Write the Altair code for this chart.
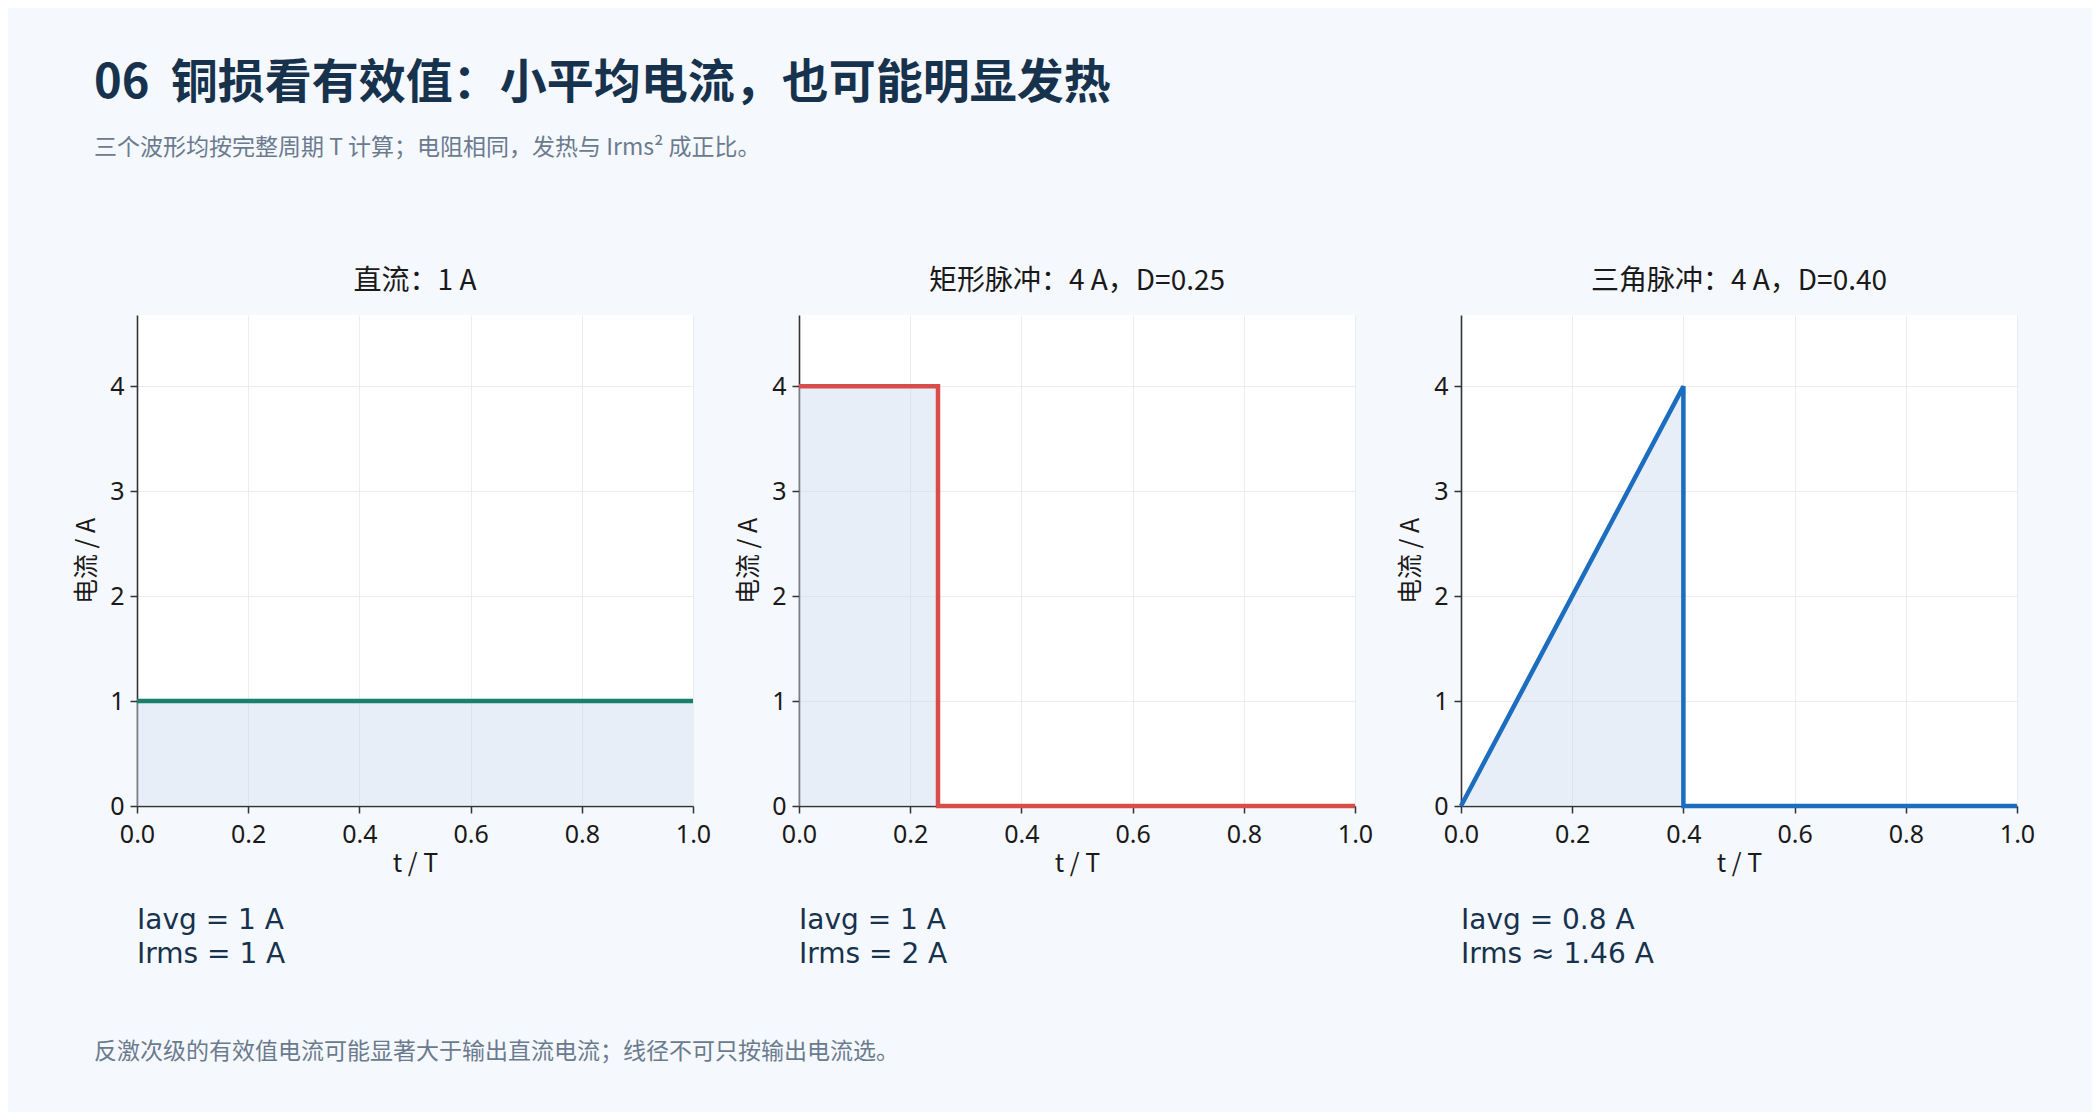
import altair as alt
import pandas as pd

# ---- data ----
panel_titles = ["直流：1 A", "矩形脉冲：4 A，D=0.25", "三角脉冲：4 A，D=0.40"]
t_dc = [0.0, 1.0]
i_dc = [1.0, 1.0]
t_rect = [0.0, 0.25, 0.25, 1.0]
i_rect = [4.0, 4.0, 0.0, 0.0]
t_tri = [0.0, 0.40, 0.40, 1.0]
i_tri = [0.0, 4.0, 0.0, 0.0]
stats_avg = ["Iavg = 1 A", "Iavg = 1 A", "Iavg = 0.8 A"]
stats_rms = ["Irms = 1 A", "Irms = 2 A", "Irms ≈ 1.46 A"]
x_ticks = [0.0, 0.2, 0.4, 0.6, 0.8, 1.0]
y_ticks = [0, 1, 2, 3, 4]
y_max = 4.68

title_text = "06\u00a0\u00a0铜损看有效值：小平均电流，也可能明显发热"
subtitle_text = "三个波形均按完整周期 T 计算；电阻相同，发热与 Irms² 成正比。"
footer_text = "反激次级的有效值电流可能显著大于输出直流电流；线径不可只按输出电流选。"

# ---- style ----
line_colors = ["#17806d", "#d94c4c", "#1c6dbf"]
CJK = "Noto Sans CJK SC"
LAT = "Noto Sans"
W, H = 556, 491
NAVY = "#17324d"
GREY = "#6b7b8f"


def panel(k, ts, cs, extras=()):
    df = pd.DataFrame({"t": ts, "i": cs, "o": list(range(len(ts)))})
    x = alt.X("t:Q", scale=alt.Scale(domain=[0, 1], nice=False, zero=False),
              axis=alt.Axis(values=x_ticks, format=".1f", title="t / T", labelFlush=False))
    y = alt.Y("i:Q", scale=alt.Scale(domain=[0, y_max], nice=False), stack=None,
              axis=alt.Axis(values=y_ticks, format="d", title="电流 / A"))
    base = alt.Chart(df)
    area = base.mark_area(color="#c9daee", opacity=0.45).encode(x=x, y=y)
    line = base.mark_line(color=line_colors[k], strokeWidth=4.5, strokeJoin="miter").encode(
        x=x, y=y, order="o:Q")
    ann = alt.Chart(pd.DataFrame({"s": [stats_avg[k] + "\n" + stats_rms[k]]})).mark_text(
        align="left", baseline="alphabetic", font="DejaVu Sans", fontSize=28, color=NAVY,
        lineBreak="\n", lineHeight=34
    ).encode(text="s:N", x=alt.value(0), y=alt.value(614))
    ttl = alt.Chart(pd.DataFrame({"s": [panel_titles[k]]})).mark_text(
        align="center", baseline="middle", font=CJK, fontSize=28, color="#1a1a1a"
    ).encode(text="s:N", x=alt.value(W / 2), y=alt.value(-33))
    layers = [area, line, ann, ttl] + list(extras)
    return alt.layer(*layers).properties(width=W, height=H)


one = pd.DataFrame({"a": [0]})
title_mark = alt.Chart(pd.DataFrame({"s": [title_text]})).mark_text(
    align="left", baseline="alphabetic", font=CJK, fontSize=47, fontWeight="bold", color=NAVY
).encode(text="s:N", x=alt.value(-43), y=alt.value(-217))
subtitle_mark = alt.Chart(pd.DataFrame({"s": [subtitle_text]})).mark_text(
    align="left", baseline="alphabetic", font=CJK, fontSize=23, color=GREY
).encode(text="s:N", x=alt.value(-43), y=alt.value(-160))
footer_mark = alt.Chart(pd.DataFrame({"s": [footer_text]})).mark_text(
    align="left", baseline="alphabetic", font=CJK, fontSize=23, color=GREY
).encode(text="s:N", x=alt.value(-43), y=alt.value(744))
anchor = alt.Chart(one).mark_rule(opacity=0, strokeWidth=0).encode(
    x=alt.value(-129), x2=alt.value(1955), y=alt.value(-307), y2=alt.value(797))

p1 = panel(0, t_dc, i_dc, extras=[title_mark, subtitle_mark, footer_mark, anchor])
p2 = panel(1, t_rect, i_rect)
p3 = panel(2, t_tri, i_tri)

chart = alt.hconcat(p1, p2, p3, spacing=106, bounds="flush").properties(
    background="#f5f8fc", padding=0
).configure_view(stroke=None, fill="white").configure_axis(
    domainColor="#333333", domainWidth=1.6, tickColor="#333333", tickWidth=1.5, tickSize=7,
    labelFont=LAT, labelFontSize=25, labelColor="#1a1a1a",
    titleFont=CJK, titleFontSize=25, titleFontWeight="normal", titleColor="#1a1a1a",
    gridColor="#ececec", gridWidth=1, labelOverlap=False,
).configure_axisX(labelPadding=9, titlePadding=4).configure_axisY(labelPadding=6, titlePadding=10)

chart.save("out.html", embed_options={"renderer": "svg", "actions": False})
